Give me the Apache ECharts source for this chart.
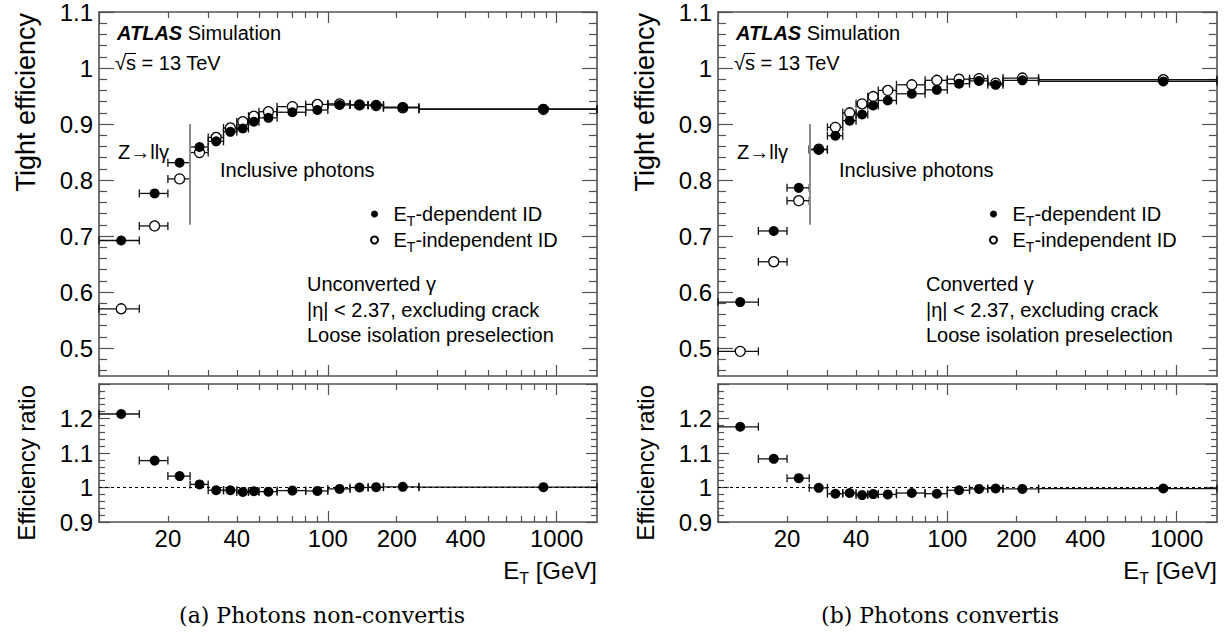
<!DOCTYPE html>
<html>
<head>
<meta charset="utf-8">
<script src="https://cdn.jsdelivr.net/npm/echarts@6/dist/echarts.min.js"></script>
<style>
html,body{margin:0;padding:0;background:#fff;}
#chart{width:1227px;height:633px;}
</style>
</head>
<body>
<div id="chart"></div>
<script>
// ---------------- data ----------------
const binLow    = [10, 15, 20, 25, 30, 35, 40, 45, 50, 60, 80, 100, 125, 150, 175, 250];
const binHigh   = [15, 20, 25, 30, 35, 40, 45, 50, 60, 80, 100, 125, 150, 175, 250, 1500];
const binCenter = [12.5, 17.5, 22.5, 27.5, 32.5, 37.5, 42.5, 47.5, 55, 70, 90, 112.5, 137.5, 162.5, 212.5, 875];

const unconvDependent   = [0.692, 0.776, 0.831, 0.859, 0.869, 0.886, 0.892, 0.904, 0.911, 0.921, 0.925, 0.934, 0.934, 0.934, 0.930, 0.927];
const unconvIndependent = [0.570, 0.718, 0.802, 0.849, 0.876, 0.893, 0.904, 0.914, 0.922, 0.931, 0.935, 0.936, 0.934, 0.933, 0.929, 0.926];
const unconvRatio       = [1.213, 1.078, 1.033, 1.009, 0.992, 0.992, 0.987, 0.989, 0.988, 0.991, 0.990, 0.996, 1.000, 1.001, 1.002, 1.001];

const convDependent     = [0.582, 0.709, 0.786, 0.854, 0.879, 0.906, 0.917, 0.933, 0.942, 0.954, 0.961, 0.972, 0.977, 0.970, 0.978, 0.976];
const convIndependent   = [0.494, 0.654, 0.763, 0.855, 0.894, 0.920, 0.936, 0.949, 0.960, 0.970, 0.978, 0.980, 0.981, 0.973, 0.982, 0.979];
const convRatio         = [1.176, 1.083, 1.027, 0.999, 0.982, 0.984, 0.978, 0.981, 0.980, 0.984, 0.982, 0.992, 0.996, 0.997, 0.996, 0.997];

// tick labels / tick positions
const xLabelValues   = [20, 40, 100, 200, 400, 1000];
const xMajorTicks    = [10, 100, 1000];
const xMinorTicks    = [20, 30, 40, 50, 60, 70, 80, 90, 200, 300, 400, 500, 600, 700, 800, 900];
const effLabels      = [0.5, 0.6, 0.7, 0.8, 0.9, 1.0, 1.1];
const effMinorTicks  = [0.46, 0.48, 0.52, 0.54, 0.56, 0.58, 0.62, 0.64, 0.66, 0.68, 0.72, 0.74, 0.76, 0.78,
                        0.82, 0.84, 0.86, 0.88, 0.92, 0.94, 0.96, 0.98, 1.02, 1.04, 1.06, 1.08];
const ratioLabels    = [0.9, 1.0, 1.1, 1.2];
const ratioMajorTicks= [0.9, 1.0, 1.1, 1.2, 1.3];
const ratioMinorTicks= [0.92, 0.94, 0.96, 0.98, 1.02, 1.04, 1.06, 1.08, 1.12, 1.14, 1.16, 1.18, 1.22, 1.24, 1.26, 1.28];

const xRange     = [10, 1500];
const effRange   = [0.45, 1.1];
const ratioRange = [0.9, 1.3];
const zLineX     = 25;
const zLineY     = [0.72, 0.9];

const panels = [
  { dep: unconvDependent, indep: unconvIndependent, ratio: unconvRatio, label: 'Unconverted \u03b3', caption: '(a) Photons non-convertis' },
  { dep: convDependent,   indep: convIndependent,   ratio: convRatio,   label: 'Converted \u03b3',   caption: '(b) Photons convertis' }
];

// ---------------- layout / style ----------------
const FONT = "'Liberation Sans', Arial, Helvetica, sans-serif";
const SERIF = "'DejaVu Serif', 'Liberation Serif', serif";
const FRAME = '#505050';
const panelLeft = [99, 718];
const panelWidth = [498, 499];
const topBox = { top: 11, height: 365 };
const ratioBox = { top: 384, height: 138 };

const grids = [], xAxes = [], yAxes = [], series = [], graphics = [], legends = [];

function lg(v) { return Math.log10(v); }

function xValAxis(gi, pos, ticks, len, line, labels) {
  return {
    type: 'value', gridIndex: gi, position: pos, min: lg(xRange[0]), max: lg(xRange[1]),
    axisLine: { show: line, lineStyle: { color: FRAME, width: 1.6 } },
    axisTick: { show: true, inside: true, length: len, customValues: ticks.map(lg), lineStyle: { color: FRAME, width: 1.2 } },
    axisLabel: { show: labels, customValues: xLabelValues.map(lg), margin: 4, fontSize: 24, color: '#000', fontFamily: FONT,
      formatter: v => String(Math.round(Math.pow(10, v))) },
    splitLine: { show: false }
  };
}
function addX(gi, labels) {
  const base = xAxes.length;
  xAxes.push({ type: 'log', logBase: 10, gridIndex: gi, position: 'bottom', min: xRange[0], max: xRange[1], show: false });
  xAxes.push(xValAxis(gi, 'bottom', xMajorTicks, 11, true, labels));
  xAxes.push(xValAxis(gi, 'bottom', xMinorTicks, 6, false, false));
  xAxes.push(xValAxis(gi, 'top', xMajorTicks, 11, true, false));
  xAxes.push(xValAxis(gi, 'top', xMinorTicks, 6, false, false));
  return base;
}
function yValAxis(gi, pos, range, ticks, len, line, labels) {
  return {
    type: 'value', gridIndex: gi, position: pos, min: range[0], max: range[1],
    axisLine: { show: line, lineStyle: { color: FRAME, width: 1.6 } },
    axisTick: { show: true, inside: true, length: len, customValues: ticks, lineStyle: { color: FRAME, width: 1.2 } },
    axisLabel: labels ? { show: true, customValues: labels, margin: 6, fontSize: 24, color: '#000', fontFamily: FONT,
      formatter: v => String(+(+v).toFixed(2)) } : { show: false },
    splitLine: { show: false }
  };
}
function addY(gi, range, labels, majors, minors, majLen, minLen) {
  const base = yAxes.length;
  yAxes.push(yValAxis(gi, 'left', range, majors, majLen, true, labels));
  yAxes.push(yValAxis(gi, 'left', range, minors, minLen, false, null));
  yAxes.push(yValAxis(gi, 'right', range, majors, majLen, true, null));
  yAxes.push(yValAxis(gi, 'right', range, minors, minLen, false, null));
  return base;
}

function errRender(params, api) {
  const y = api.value(2);
  const p1 = api.coord([api.value(0), y]);
  const p2 = api.coord([api.value(1), y]);
  const c = 4;
  const st = { stroke: '#111', lineWidth: 1.3 };
  return { type: 'group', children: [
    { type: 'line', shape: { x1: p1[0], y1: p1[1], x2: p2[0], y2: p2[1] }, style: st },
    { type: 'line', shape: { x1: p1[0], y1: p1[1] - c, x2: p1[0], y2: p1[1] + c }, style: st },
    { type: 'line', shape: { x1: p2[0], y1: p2[1] - c, x2: p2[0], y2: p2[1] + c }, style: st }
  ]};
}
function errSeries(xi, yi, vals) {
  return { type: 'custom', xAxisIndex: xi, yAxisIndex: yi, renderItem: errRender, silent: true, z: 2,
    encode: { x: [0, 1], y: 2 },
    data: binLow.map((lo, k) => [lo, binHigh[k], vals[k]]) };
}
function pts(vals) { return binCenter.map((x, k) => [x, vals[k]]); }

const DEP = 'ET-dependent ID', INDEP = 'ET-independent ID';
const richBase = {
  n: { fontSize: 20, fontFamily: FONT, color: '#000', lineHeight: 24 },
  s: { fontSize: 14, fontFamily: FONT, color: '#000', height: 10, verticalAlign: 'bottom' }
};
const MS = 10;

panels.forEach((p, pi) => {
  const L = panelLeft[pi], W = panelWidth[pi];
  const gTop = grids.length;
  grids.push({ left: L, top: topBox.top, width: W, height: topBox.height });
  const gRat = grids.length;
  grids.push({ left: L, top: ratioBox.top, width: W, height: ratioBox.height });

  const xT = addX(gTop, false);
  const xR = addX(gRat, true);
  const yT = addY(gTop, effRange, effLabels, effLabels, effMinorTicks, 15, 8);
  const yR = addY(gRat, ratioRange, ratioLabels, ratioMajorTicks, ratioMinorTicks, 11, 6);

  series.push(errSeries(xT, yT, p.indep));
  series.push(errSeries(xT, yT, p.dep));
  series.push({ type: 'scatter', name: INDEP, xAxisIndex: xT, yAxisIndex: yT, data: pts(p.indep), z: 3,
    symbol: 'circle', symbolSize: MS, itemStyle: { color: '#fff', borderColor: '#000', borderWidth: 1.3, opacity: 1 },
    emphasis: { disabled: true },
    markLine: { silent: true, symbol: ['none', 'none'], label: { show: false },
      lineStyle: { color: '#8c8c8c', width: 2, type: 'solid' },
      data: [[{ coord: [zLineX, zLineY[0]] }, { coord: [zLineX, zLineY[1]] }]] } });
  series.push({ type: 'scatter', name: DEP, xAxisIndex: xT, yAxisIndex: yT, data: pts(p.dep), z: 4,
    symbol: 'circle', symbolSize: MS, itemStyle: { color: '#000', opacity: 1 }, emphasis: { disabled: true } });

  series.push(errSeries(xR, yR, p.ratio));
  series.push({ type: 'scatter', name: DEP, xAxisIndex: xR, yAxisIndex: yR, data: pts(p.ratio), z: 4,
    symbol: 'circle', symbolSize: MS, itemStyle: { color: '#000', opacity: 1 }, emphasis: { disabled: true },
    markLine: { silent: true, symbol: ['none', 'none'], label: { show: false },
      lineStyle: { color: '#000', width: 1, type: [3, 3] }, data: [{ yAxis: 1 }] } });

  legends.push({
    left: L + 271, top: 204, orient: 'vertical', padding: 0, itemGap: 2, itemWidth: 28, itemHeight: 7,
    selectedMode: false, icon: 'circle',
    data: [DEP, INDEP],
    formatter: name => name === DEP ? '{n|E}{s|T}{n|-dependent ID}' : '{n|E}{s|T}{n|-independent ID}',
    textStyle: { rich: richBase }
  });

  const dx = L - 99;
  const txt = (x, y, text, extra) => graphics.push({ type: 'text', x: x + dx, y: y, silent: true,
    style: Object.assign({ text: text, fontSize: 20, fontFamily: FONT, fill: '#000', verticalAlign: 'middle', align: 'left' }, extra || {}) });

  txt(117, 33, '{b|ATLAS} {n|Simulation}', { rich: {
    b: { fontSize: 20, fontFamily: FONT, fontWeight: 'bold', fontStyle: 'italic', fill: '#000' },
    n: { fontSize: 20, fontFamily: FONT, fill: '#000' } } });
  txt(115, 63, '\u221as = 13 TeV');
  // overline of the square root
  graphics.push({ type: 'line', silent: true, shape: { x1: 125 + dx, y1: 53.5, x2: 136 + dx, y2: 53.5 },
    style: { stroke: '#000', lineWidth: 1.1 } });
  txt(118, 152, 'Z\u2192ll\u03b3');
  txt(220, 170, 'Inclusive photons');
  txt(307, 284, p.label);
  txt(307, 310, '|\u03b7| < 2.37, excluding crack');
  txt(307, 335, 'Loose isolation preselection');
  // axis titles
  graphics.push({ type: 'text', x: L + W, y: 570, silent: true,
    style: { text: '{n|E}{s|T}{n| [GeV]}', align: 'right', verticalAlign: 'middle',
      rich: { n: { fontSize: 24, fontFamily: FONT, fill: '#000', lineHeight: 28 },
              s: { fontSize: 16, fontFamily: FONT, fill: '#000', height: 11, verticalAlign: 'bottom' } } } });
  graphics.push({ type: 'text', x: 26 + dx, y: 13, rotation: Math.PI / 2, silent: true,
    style: { text: 'Tight efficiency', align: 'right', verticalAlign: 'middle', fontSize: 27, fontFamily: FONT, fill: '#000' } });
  graphics.push({ type: 'text', x: 26 + dx, y: 385, rotation: Math.PI / 2, silent: true,
    style: { text: 'Efficiency ratio', align: 'right', verticalAlign: 'middle', fontSize: 24, fontFamily: FONT, fill: '#000' } });
  graphics.push({ type: 'text', x: pi === 0 ? 322 : 940, y: 615, silent: true,
    style: { text: p.caption, align: 'center', verticalAlign: 'middle', fontSize: 22, fontFamily: SERIF, fill: '#000' } });
});

const chart = echarts.init(document.getElementById('chart'), null, { renderer: 'svg' });
chart.setOption({
  animation: false,
  backgroundColor: '#fff',
  grid: grids,
  xAxis: xAxes,
  yAxis: yAxes,
  legend: legends,
  series: series,
  graphic: graphics
});
</script>
</body>
</html>
